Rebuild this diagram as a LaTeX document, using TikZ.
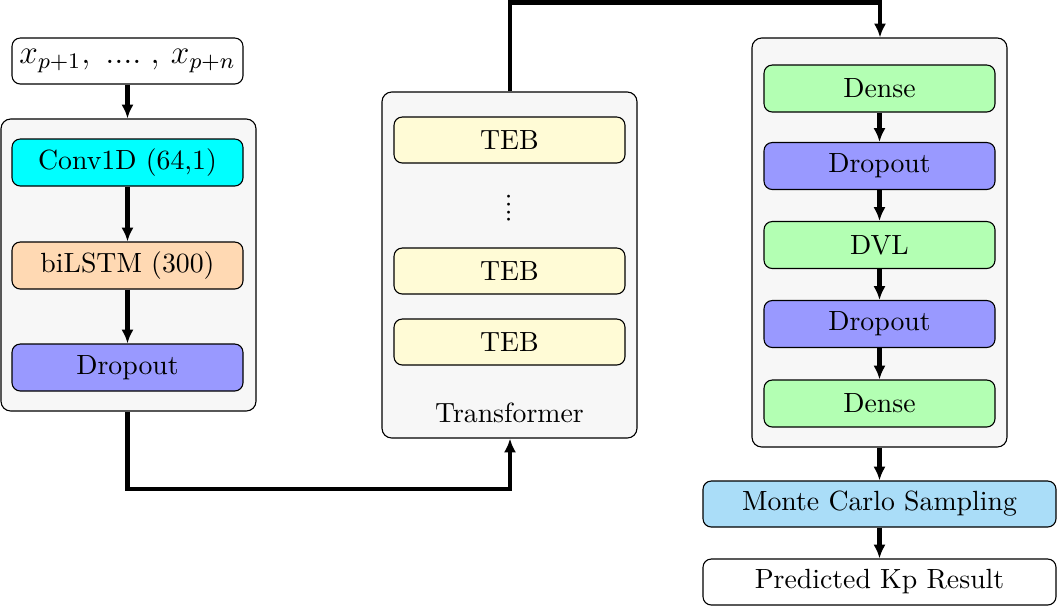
\documentclass[tikz,border=0pt]{standalone}
\usetikzlibrary{arrows.meta}
\definecolor{cgray}{RGB}{247,247,247}
\definecolor{cconv}{RGB}{0,255,255}
\definecolor{clstm}{RGB}{255,217,179}
\definecolor{cdrop}{RGB}{153,153,255}
\definecolor{cteb}{RGB}{255,251,214}
\definecolor{cdense}{RGB}{179,255,179}
\definecolor{cmc}{RGB}{170,221,248}
\begin{document}
\begin{tikzpicture}[x=0.36pt,y=-0.36pt,
  container/.style={draw=black,thin,fill=cgray,rounded corners=3.5pt,minimum width=255*0.36pt,inner sep=0pt},
  layer/.style={draw=black,thin,rounded corners=3pt,minimum width=231*0.36pt,minimum height=47*0.36pt,inner sep=0pt},
  wide/.style={draw=black,thin,rounded corners=3pt,minimum width=353*0.36pt,minimum height=46*0.36pt,inner sep=0pt},
  conn/.style={line width=1.6pt,-{Latex[length=5pt,width=4.4pt]}}]
\useasboundingbox (0,0) rectangle (1058,606);
% containers
\node[container,minimum height=292*0.36pt] (leftc) at (128.5,265) {};
\node[container,minimum height=346*0.36pt] (midc) at (509.5,265) {};
\node[container,minimum height=409*0.36pt] (rightc) at (879.5,242.5) {};
% input
\node[layer,fill=white,minimum height=46*0.36pt] (in) at (127.5,61) {\large $x_{p+1},\;....\;,\,x_{p+n}$};
% left column
\node[layer,fill=cconv] (conv) at (127.5,162.5) {Conv1D (64,1)};
\node[layer,fill=clstm] (lstm) at (127.5,265.5) {biLSTM (300)};
\node[layer,fill=cdrop] (drop1) at (127.5,367.5) {Dropout};
% middle column
\node[layer,fill=cteb,minimum height=46*0.36pt] (teb1) at (509.5,140) {TEB};
\node[rotate=90,inner sep=0pt] (dots) at (509.5,208.5) {....};
\node[layer,fill=cteb,minimum height=46*0.36pt] (teb2) at (509.5,271) {TEB};
\node[layer,fill=cteb,minimum height=46*0.36pt] (teb3) at (509.5,342) {TEB};
\node (tlabel) at (509.5,413) {Transformer};
% right column
\node[layer,fill=cdense] (dense1) at (879.5,88.5) {Dense};
\node[layer,fill=cdrop] (drop2) at (879.5,166) {Dropout};
\node[layer,fill=cdense] (dvl) at (879.5,245) {DVL};
\node[layer,fill=cdrop] (drop3) at (879.5,324) {Dropout};
\node[layer,fill=cdense] (dense2) at (879.5,403.5) {Dense};
\node[wide,fill=cmc] (mc) at (879.5,504) {Monte Carlo Sampling};
\node[wide,fill=white] (pred) at (879.5,582) {Predicted Kp Result};
% coordinates for routing
\coordinate (b1) at (127.5,489);
\coordinate (b2) at (510,489);
\coordinate (t1) at (510,2.5);
\coordinate (t2) at (880,2.5);
% connectors
\draw[conn] (in.south) -- (leftc.north -| in.south);
\draw[conn] (conv) -- (lstm);
\draw[conn] (lstm) -- (drop1);
\draw[conn] (leftc.south -| conv.south) -- (b1) -- (b2) -- (midc.south -| b2);
\draw[conn] (midc.north -| t1) -- (t1) -- (t2) -- (rightc.north -| t2);
\draw[conn] (dense1) -- (drop2);
\draw[conn] (drop2) -- (dvl);
\draw[conn] (dvl) -- (drop3);
\draw[conn] (drop3) -- (dense2);
\draw[conn] (rightc.south -| mc.north) -- (mc);
\draw[conn] (mc) -- (pred);
\end{tikzpicture}
\end{document}
